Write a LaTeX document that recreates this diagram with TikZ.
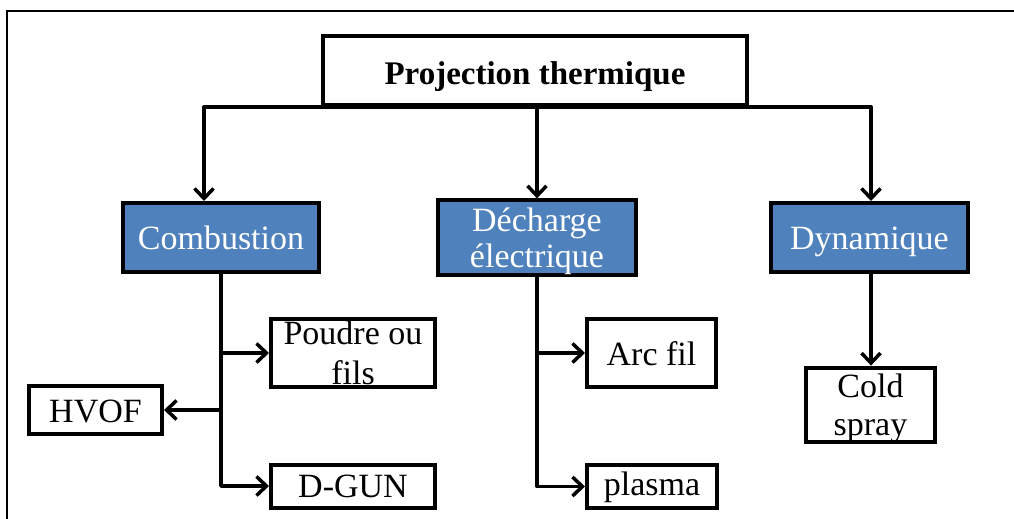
\documentclass[tikz,border=0pt]{standalone}
\usepackage{fontspec}
\setmainfont{Liberation Serif}
\usetikzlibrary{arrows.meta}
\definecolor{boxblue}{RGB}{79,129,189}
\begin{document}
\begin{tikzpicture}[x=1pt,y=-1pt,
  base/.style={draw=black,line width=4pt,inner sep=0pt,
    font=\fontsize{34}{39}\selectfont},
  single/.style={text height=24pt,text depth=0pt},
  bluebox/.style={base,fill=boxblue,text=white,minimum width=196pt,minimum height=69pt},
  whitebox/.style={base,fill=white,text=black},
  conn/.style={line width=3.5pt,line cap=round,line join=round},
  arr/.style={conn,-{Straight Barb[length=10pt,width=19pt,line width=3.5pt]}}]
\useasboundingbox (0,0) rectangle (1014,519);
% frame
\draw[line width=2pt] (7,530) -- (7,11) -- (1020,11);
% nodes
\node[whitebox,minimum width=424pt,minimum height=68pt,text height=28pt,text depth=0pt,
  font=\fontsize{33}{39}\selectfont\bfseries] (title) at (535,70.5) {Projection thermique};
\node[bluebox,single] (comb) at (221,237.5) {Combustion};
\node[bluebox,minimum width=198pt,align=center,font=\fontsize{34}{36}\selectfont] (dech) at (537,237.5) {\rule{0pt}{31pt}Décharge\\électrique};
\node[bluebox,single,minimum width=197pt] (dyn) at (869.5,237.5) {Dynamique};
\node[whitebox,minimum width=164pt,minimum height=68pt,align=center,font=\fontsize{34}{40}\selectfont] (poudre) at (353,353) {Poudre ou\\fils};
\node[whitebox,single,minimum width=133pt,minimum height=48pt] (hvof) at (95.5,410) {HVOF};
\node[whitebox,single,minimum width=164pt,minimum height=43pt,text height=22pt] (dgun) at (353,486) {D-GUN};
\node[whitebox,single,minimum width=129pt,minimum height=68pt] (arcfil) at (651.5,353) {Arc fil};
\node[whitebox,single,minimum width=130pt,minimum height=43pt,text height=18pt] (plasma) at (652,486.5) {plasma};
\node[whitebox,minimum width=129pt,minimum height=70pt,align=center,font=\fontsize{34}{38}\selectfont] (cold) at (870.5,405) {\rule{0pt}{29.5pt}Cold\\spray};
% top connectors
\coordinate (hl) at (204,107);
\coordinate (hr) at (871,107);
\draw[conn] (hl) -- (hr);
\draw[arr] (dech.north |- title.south) -- (dech.north);
\draw[arr] (hl) -- (hl |- comb.north);
\draw[arr] (hr) -- (hr |- dyn.north);
% combustion branch
\draw[arr] (comb.south) |- (dgun.west);
\draw[arr] (comb.south |- poudre.west) -- (poudre.west);
\draw[arr] (comb.south |- hvof.east) -- (hvof.east);
% decharge branch
\draw[arr] (dech.south) |- (plasma.west);
\draw[arr] (dech.south |- arcfil.west) -- (arcfil.west);
% dynamique
\draw[arr] (hr |- dyn.south) -- (hr |- cold.north);
\end{tikzpicture}
\end{document}
